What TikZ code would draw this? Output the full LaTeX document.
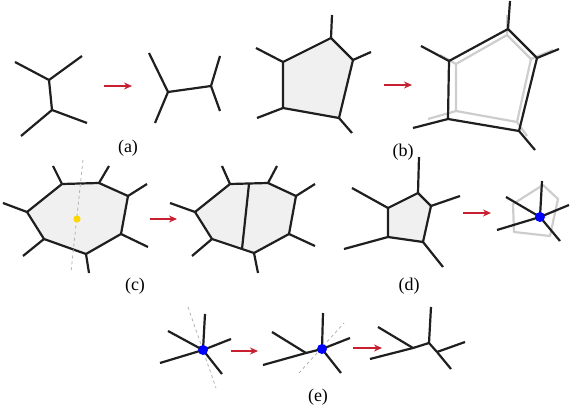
\documentclass[tikz,border=0pt]{standalone}
\usepackage{fontspec}
\setmainfont{Liberation Serif}
\usetikzlibrary{arrows.meta}

\definecolor{arrowred}{RGB}{200,32,48}
\definecolor{facegray}{RGB}{240,240,240}
\definecolor{ghostgray}{RGB}{205,205,205}
\definecolor{dotyellow}{RGB}{255,215,0}

\begin{document}
\begin{tikzpicture}[x=1pt,y=-1pt,
    edge/.style={line width=2.2pt,color=black!88,line join=round},
    ghost/.style={line width=2.2pt,color=ghostgray,line join=round},
    cutline/.style={dashed,line width=0.8pt,color=gray!60},
    face/.style={fill=facegray},
    move/.style={-{Stealth[length=8pt,width=7pt]},line width=2pt,color=arrowred},
    lab/.style={font=\fontsize{18}{20}\selectfont,inner sep=0pt}]
  \useasboundingbox (0,0) rectangle (582,406);

  % (a) edge flip
  \coordinate (au) at (49,80);  \coordinate (al) at (52,110);
  \coordinate (au1) at (15,62); \coordinate (au2) at (82,56);
  \coordinate (al1) at (21,136); \coordinate (al2) at (87,123);
  \draw[edge] (au1)--(au)--(al)--(al1) (au2)--(au) (al)--(al2);
  \coordinate (aa1) at (104,86); \coordinate (aa2) at (132,86);
  \draw[move] (aa1)--(aa2);
  \coordinate (bl) at (168,92); \coordinate (br) at (211,86);
  \coordinate (bl1) at (149,53); \coordinate (bl2) at (155,123);
  \coordinate (br1) at (220,56); \coordinate (br2) at (220,111);
  \draw[edge] (bl1)--(bl)--(bl2) (bl)--(br) (br1)--(br)--(br2);
  \node[lab] (la) at (128,148) {(a)};

  % (b) pentagon shift
  \foreach \n/\p/\q in {1/{331,38}/{332,15},2/{353,60}/{371,52},3/{339,118}/{352,133},4/{283,108}/{257,118},5/{283,62}/{256,48}}{
    \coordinate (p\n) at (\p); \coordinate (q\n) at (\q);
  }
  \fill[face] (p1)--(p2)--(p3)--(p4)--(p5)--cycle;
  \draw[edge] (p1)--(p2)--(p3)--(p4)--(p5)--cycle;
  \foreach \n in {1,...,5} \draw[edge] (p\n)--(q\n);
  \coordinate (ba1) at (384,85); \coordinate (ba2) at (412,85);
  \draw[move] (ba1)--(ba2);
  \foreach \n/\p/\q in {1/{507,35}/{507,15},2/{531,59}/{553,50},3/{517,122}/{527,136},4/{456,111}/{428,119},5/{456,64}/{440,55}}{
    \coordinate (g\n) at (\p); \coordinate (h\n) at (\q);
  }
  \draw[ghost] (g1)--(g2)--(g3)--(g4)--(g5)--cycle;
  \foreach \n in {1,...,5} \draw[ghost] (g\n)--(h\n);
  \foreach \n/\p/\q in {1/{508,29}/{510,1},2/{537,58}/{559,49},3/{519,131}/{535,150},4/{448,119}/{413,128},5/{449,61}/{421,46}}{
    \coordinate (s\n) at (\p); \coordinate (t\n) at (\q);
  }
  \draw[edge] (s1)--(s2)--(s3)--(s4)--(s5)--cycle;
  \foreach \n in {1,...,5} \draw[edge] (s\n)--(t\n);
  \node[lab] (lb) at (403,152) {(b)};

  % (c) face split
  \foreach \n/\p/\q in {1/{62,184}/{53,166},2/{99,183}/{109,166},3/{128,196}/{147,184},4/{121,234}/{148,247},5/{86,254}/{89,273},6/{44,239}/{23,256},7/{27,212}/{3,203}}{
    \coordinate (c\n) at (\p); \coordinate (d\n) at (\q);
  }
  \fill[face] (c1)--(c2)--(c3)--(c4)--(c5)--(c6)--(c7)--cycle;
  \draw[edge] (c1)--(c2)--(c3)--(c4)--(c5)--(c6)--(c7)--cycle;
  \foreach \n in {1,...,7} \draw[edge] (c\n)--(d\n);
  \coordinate (cut1) at (83,160); \coordinate (cut2) at (71,272);
  \draw[cutline] (cut1)--(cut2);
  \fill[dotyellow] (77,219) circle (3.6);
  \coordinate (ca1) at (150,219); \coordinate (ca2) at (177,219);
  \draw[move] (ca1)--(ca2);
  \foreach \n/\p/\q in {1/{230,184}/{222,166},2/{268,183}/{277,166},3/{296,196}/{315,184},4/{289,234}/{315,246},5/{254,253}/{258,273},6/{212,239}/{192,256},7/{195,212}/{170,203}}{
    \coordinate (e\n) at (\p); \coordinate (f\n) at (\q);
  }
  \fill[face] (e1)--(e2)--(e3)--(e4)--(e5)--(e6)--(e7)--cycle;
  \draw[edge] (e1)--(e2)--(e3)--(e4)--(e5)--(e6)--(e7)--cycle;
  \foreach \n in {1,...,7} \draw[edge] (e\n)--(f\n);
  \coordinate (sp1) at (249,184); \coordinate (sp2) at (242,249);
  \draw[edge] (sp1)--(sp2);
  \node[lab] (lc) at (135,286) {(c)};

  % (d) face collapse
  \foreach \n/\p/\q in {1/{418,193}/{419,157},2/{431,206}/{460,196},3/{423,242}/{443,267},4/{388,237}/{344,249},5/{388,208}/{352,188}}{
    \coordinate (m\n) at (\p); \coordinate (k\n) at (\q);
  }
  \fill[face] (m1)--(m2)--(m3)--(m4)--(m5)--cycle;
  \draw[edge] (m1)--(m2)--(m3)--(m4)--(m5)--cycle;
  \foreach \n in {1,...,5} \draw[edge] (m\n)--(k\n);
  \coordinate (da1) at (463,213); \coordinate (da2) at (491,213);
  \draw[move] (da1)--(da2);
  \coordinate (w1) at (543,185); \coordinate (w2) at (558,199); \coordinate (w3) at (550,236);
  \coordinate (w4) at (514,232); \coordinate (w5) at (513,204);
  \draw[ghost] (w1)--(w2)--(w3)--(w4)--(w5)--cycle;
  \coordinate (dc) at (540,217);
  \foreach \q in {{542,181},{569,205},{560,241},{497,230},{506,197}}
    \draw[edge] (dc)--(\q);
  \fill[blue] (dc) circle (5);
  \node[lab] (ld) at (409,286) {(d)};

  % (e) vertex split
  \coordinate (x0) at (203,350);
  \coordinate (xc1) at (188,307); \coordinate (xc2) at (216,388);
  \draw[cutline] (xc1)--(xc2);
  \foreach \q in {{205,314},{231,339},{222,374},{160,363},{168,331}}
    \draw[edge] (x0)--(\q);
  \fill[blue] (x0) circle (5);
  \coordinate (ea1) at (231,351); \coordinate (ea2) at (258,351);
  \draw[move] (ea1)--(ea2);
  \coordinate (y0) at (322,349); \coordinate (yv) at (306,353);
  \coordinate (yc1) at (299,373); \coordinate (yc2) at (344,323);
  \draw[cutline] (yc1)--(yc2);
  \foreach \q in {{263,365},{272,332}} \draw[edge] (yv)--(\q);
  \draw[edge] (yv)--(y0);
  \foreach \q in {{323,313},{350,338},{341,373}} \draw[edge] (y0)--(\q);
  \fill[blue] (y0) circle (5);
  \coordinate (eb1) at (353,348); \coordinate (eb2) at (382,348);
  \draw[move] (eb1)--(eb2);
  \coordinate (z1) at (413,348); \coordinate (z2) at (429,343); \coordinate (z3) at (437,352);
  \draw[edge] (z1)--(z2)--(z3);
  \foreach \q in {{378,327},{370,359}} \draw[edge] (z1)--(\q);
  \draw[edge] (z2)--(431,307);
  \foreach \q in {{465,342},{451,369}} \draw[edge] (z3)--(\q);
  \node[lab] (le) at (318,397) {(e)};
\end{tikzpicture}
\end{document}
